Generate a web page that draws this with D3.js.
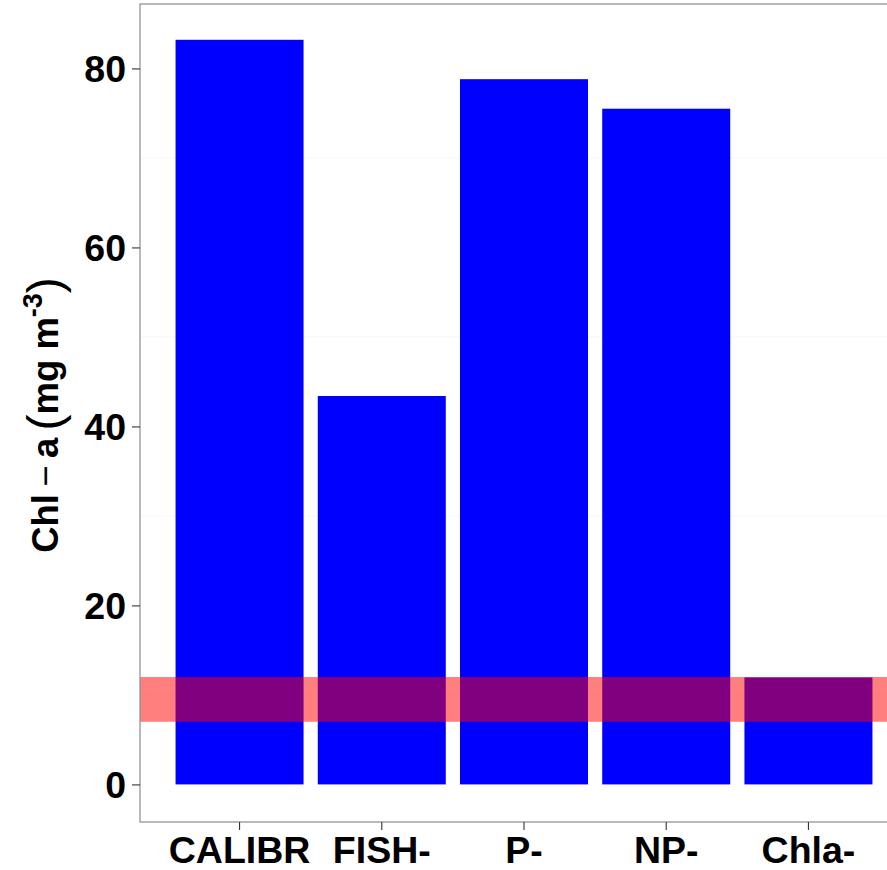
<!DOCTYPE html>
<html>
<head>
<meta charset="utf-8">
<script src="https://cdn.jsdelivr.net/npm/d3@7"></script>
<style>
  body { margin: 0; background: #fff; }
  svg { display: block; }
  text { font-family: "Liberation Sans", Arial, sans-serif; font-weight: bold; }
</style>
</head>
<body>
<svg id="chart"></svg>
<script>
/* data */
var scenarios = ['CALIBR', 'FISH-', 'P-', 'NP-', 'Chla-'];
var chlValues = [83.2, 43.4, 78.8, 75.5, 11.95];
var targetBand = [7, 12];
var yTicks = [0, 20, 40, 60, 80];
var yMinorTicks = [10, 30, 50, 70];

var svgPar = { width: 887, height: 870 };
var panel = { left: 140, right: 908, top: 4, bottom: 822 };

var svg = d3.select('svg#chart')
    .attr('width', svgPar.width)
    .attr('height', svgPar.height);

var x = d3.scaleBand()
    .domain(scenarios)
    .range([panel.left, panel.right])
    .paddingInner(0.1)
    .paddingOuter(0.25);

var y = d3.scaleLinear()
    .domain([-4.2, 87.2])
    .range([panel.bottom, panel.top]);

/* faint minor grid */
svg.append('g')
    .selectAll('line')
    .data(yMinorTicks)
    .enter()
    .append('line')
    .attr('x1', panel.left)
    .attr('x2', panel.right)
    .attr('y1', d => y(d))
    .attr('y2', d => y(d))
    .style('stroke', '#f7f7f7')
    .style('stroke-width', 1);

/* bars */
svg.append('g')
    .selectAll('rect')
    .data(chlValues)
    .enter()
    .append('rect')
    .attr('x', (d, i) => x(scenarios[i]))
    .attr('width', x.bandwidth())
    .attr('y', d => y(d))
    .attr('height', d => y(0) - y(d))
    .style('fill', '#0000ff');

/* target range, across the whole panel */
svg.append('rect')
    .attr('x', panel.left)
    .attr('width', panel.right - panel.left)
    .attr('y', y(targetBand[1]))
    .attr('height', y(targetBand[0]) - y(targetBand[1]))
    .style('fill', '#ff0000')
    .style('fill-opacity', 0.5);

/* panel border */
svg.append('rect')
    .attr('x', panel.left)
    .attr('y', panel.top)
    .attr('width', panel.right - panel.left)
    .attr('height', panel.bottom - panel.top)
    .style('fill', 'none')
    .style('stroke', '#8c8c8c')
    .style('stroke-width', 1.2);

/* y axis */
var yAxis = svg.append('g')
    .attr('transform', `translate(${panel.left},0)`)
    .call(d3.axisLeft(y).tickValues(yTicks).tickSize(8).tickPadding(6));
yAxis.select('.domain').remove();
yAxis.selectAll('line').style('stroke', '#333').style('stroke-width', 1.1);
yAxis.selectAll('text')
    .attr('fill', '#000')
    .style('font-size', '37.5px')
    .attr('dy', '0.36em');

/* x axis */
var xAxis = svg.append('g')
    .attr('transform', `translate(0,${panel.bottom})`)
    .call(d3.axisBottom(x).tickSize(8).tickPadding(0));
xAxis.select('.domain').remove();
xAxis.selectAll('line').style('stroke', '#333').style('stroke-width', 1.1);
xAxis.selectAll('text')
    .attr('fill', '#000')
    .style('font-size', '37.5px')
    .attr('y', 41)
    .attr('dy', 0);

/* y axis title: Chl - a (mg m^-3) */
var title = svg.append('text')
    .attr('transform', 'translate(58,415) rotate(-90)')
    .attr('text-anchor', 'middle')
    .style('font-size', '36.5px');
title.append('tspan').text('Chl');
title.append('tspan').text('\u2009\u2212\u2009').style('font-weight', 'normal');
title.append('tspan').text('a\u2009');
title.append('tspan').text('(').style('font-weight', 'normal').style('font-size', '48px').attr('dy', 3);
title.append('tspan').text('mg m').attr('dy', -3);
title.append('tspan').text('-3').style('font-size', '27px').attr('dy', -16);
title.append('tspan').text(')').style('font-weight', 'normal').style('font-size', '48px').attr('dy', 19);
</script>
</body>
</html>
